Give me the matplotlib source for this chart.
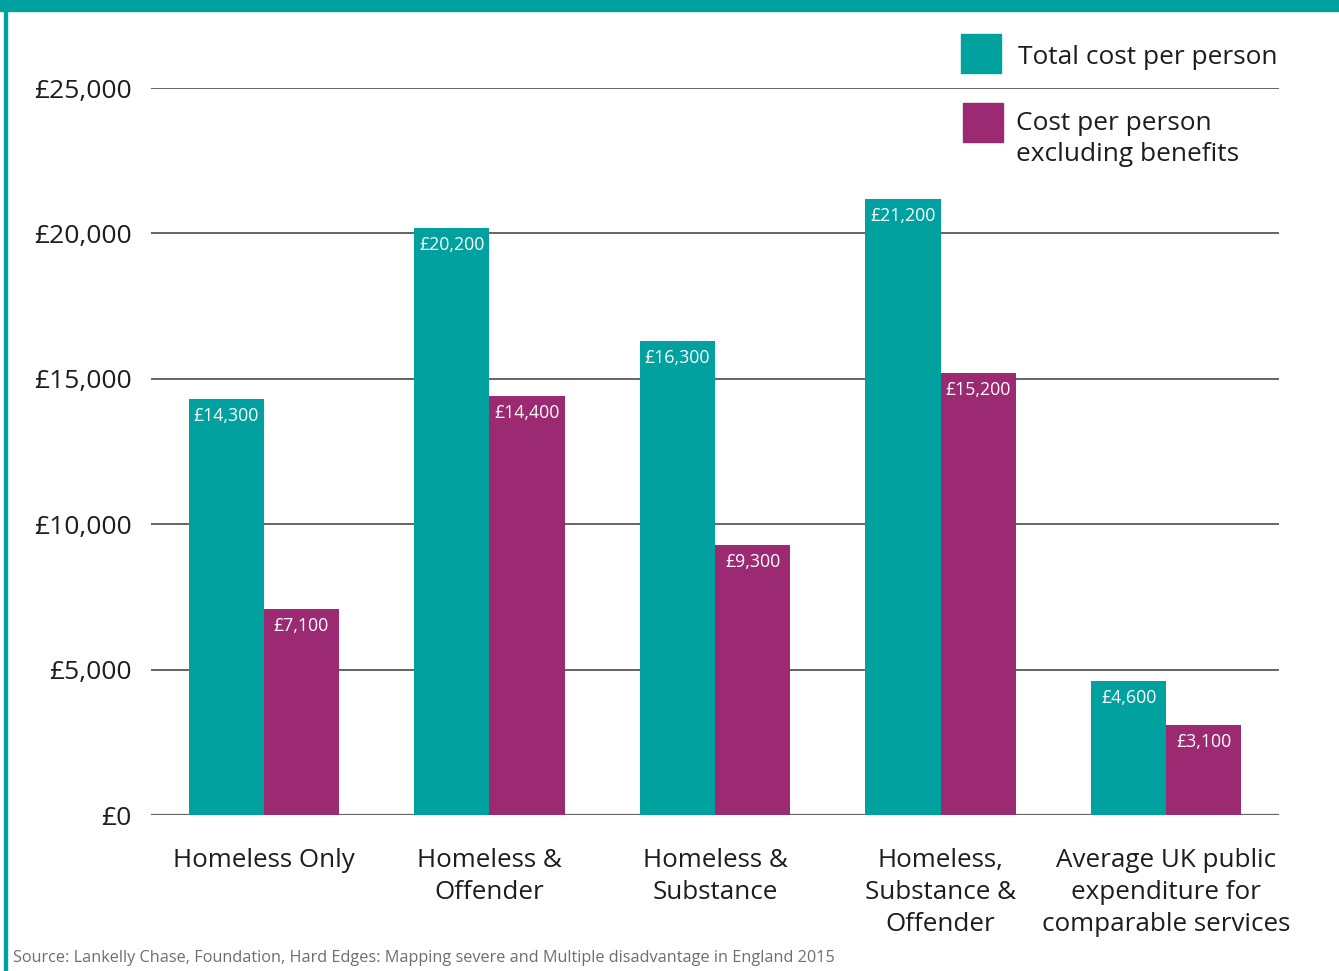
import numpy as np
import matplotlib.pyplot as plt
from matplotlib.patches import Rectangle

# data
categories = ["Homeless Only", "Homeless &\nOffender", "Homeless &\nSubstance",
              "Homeless,\nSubstance &\nOffender",
              "Average UK public\nexpenditure for\ncomparable services"]
total_cost = [14300, 20200, 16300, 21200, 4600]
excl_benefits = [7100, 14400, 9300, 15200, 3100]
yticks = [0, 5000, 10000, 15000, 20000, 25000]

TEAL = "#00A19F"
PURPLE = "#9B2A73"
FONT = "Open Sans"
INK = "#1e1c1d"

W, H = 1339, 971
fig = plt.figure(figsize=(W / 100, H / 100), dpi=100)

# axes placed in pixel terms: x 151..1279, y 88..815
ax = fig.add_axes([151 / W, 1 - 815 / H, (1279 - 151) / W, (815 - 88) / H])
x = np.arange(len(categories))
bw = 0.333
b1 = ax.bar(x - bw / 2, total_cost, bw, color=TEAL, zorder=3)
b2 = ax.bar(x + bw / 2, excl_benefits, bw, color=PURPLE, zorder=3)

for bars, vals in ((b1, total_cost), (b2, excl_benefits)):
    for r, v in zip(bars, vals):
        ax.text(r.get_x() + r.get_width() / 2, v - 280, "£{:,}".format(v),
                ha="center", va="top", color="white", fontsize=12.8,
                family=FONT, zorder=4)

ax.set_xlim(-0.5, 4.5)
ax.set_ylim(0, 25000)
ax.set_yticks(yticks)
ax.set_yticklabels(["£{:,}".format(t) for t in yticks], fontsize=19, family=FONT,
                   color=INK)
for t in yticks:
    ax.axhline(t, color="#3a3a3a" if t else "#666666", lw=1.1 if t else 1.6, zorder=2)
ax.tick_params(axis="y", length=0, pad=14)
ax.set_xticks(x)
ax.set_xticklabels(categories, fontsize=18.7, family=FONT, color=INK,
                   linespacing=1.37, va="top")
ax.tick_params(axis="x", length=0, pad=24)
for s in ax.spines.values():
    s.set_visible(False)

# legend drawn by hand in figure pixels
fig.patches.append(Rectangle((961 / W, 1 - 73 / H), 40 / W, 39 / H,
                             transform=fig.transFigure, color=TEAL))
fig.patches.append(Rectangle((963 / W, 1 - 142 / H), 40 / W, 39 / H,
                             transform=fig.transFigure, color=PURPLE))
fig.text(1018 / W, 1 - 57 / H, "Total cost per person", fontsize=18.9, family=FONT,
         va="center", color=INK)
fig.text(1016 / W, 1 - 139 / H, "Cost per person\nexcluding benefits", fontsize=18.9,
         family=FONT, va="center", color=INK, linespacing=1.3)

# frame: teal band on top and teal line on the left
fig.patches.append(Rectangle((0, 1 - 11 / H), 1, 11 / H, transform=fig.transFigure,
                             color=TEAL))
fig.patches.append(Rectangle((4 / W, 0), 2.5 / W, 1, transform=fig.transFigure,
                             color=TEAL))

fig.text(13 / W, 1 - 958 / H,
         "Source: Lankelly Chase, Foundation, Hard Edges: Mapping severe and Multiple disadvantage in England 2015",
         fontsize=11.7, family=FONT, color="#6d6e70", va="center")

plt.savefig("out.png", dpi=100)
